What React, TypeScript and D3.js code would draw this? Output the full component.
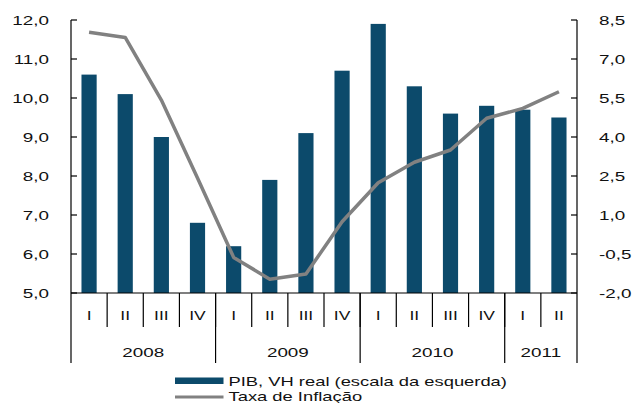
import React from "react";
import * as d3 from "d3";

const quarters = ["I", "II", "III", "IV", "I", "II", "III", "IV", "I", "II", "III", "IV", "I", "II"];
const years = ["2008", "2009", "2010", "2011"];
const yearSpans = [4, 4, 4, 2];
const pib = [10.6, 10.1, 9.0, 6.8, 6.2, 7.9, 9.1, 10.7, 11.9, 10.3, 9.6, 9.8, 9.7, 9.5];
const inflacao = [8.03, 7.83, 5.42, 2.42, -0.63, -1.47, -1.27, 0.74, 2.24, 3.03, 3.5, 4.72, 5.1, 5.74];
const leftTicks = [5, 6, 7, 8, 9, 10, 11, 12];
const rightTicks = [-2, -0.5, 1, 2.5, 4, 5.5, 7, 8.5];
const seriesNames = ["PIB, VH real (escala da esquerda)", "Taxa de Inflação"];

const W = 633, H = 403;
const X0 = 71, X1 = 577, Y0 = 20, Y1 = 293;
const BAR = "#0c4a6b";
const LINE = "#818181";
const TXT = "#111";
const FONT = "'Liberation Sans', Arial, sans-serif";

const fmt = (v: number) => v.toFixed(1).replace(".", ",");

function T({ x, y, s, anchor = "middle", size = 13, sx = 1.45 }: any) {
  return (
    <text transform={`translate(${x},${y}) scale(${sx},1)`} textAnchor={anchor} fontSize={size} fill={TXT} fontFamily={FONT}>
      {s}
    </text>
  );
}

export default function App() {
  const idx = quarters.map((_, i) => String(i));
  const x = d3.scaleBand<string>().domain(idx).range([X0, X1]).padding(0);
  const yL = d3.scaleLinear().domain([5, 12]).range([Y1, Y0]);
  const yR = d3.scaleLinear().domain([-2, 8.5]).range([Y1, Y0]);
  const bw = x.bandwidth() * 0.42;
  const line = d3
    .line<number>()
    .x((_, i) => (x(String(i)) as number) + x.bandwidth() / 2)
    .y((d) => yR(d));

  const yearBounds: number[] = [0];
  yearSpans.forEach((s, i) => yearBounds.push(yearBounds[i] + s));
  const bx = (k: number) => X0 + k * x.bandwidth();

  return (
    <svg width={W} height={H} style={{ position: "absolute", left: 0, top: 0, background: "#fff" }}>
      {pib.map((v, i) => (
        <rect key={i} x={(x(String(i)) as number) + (x.bandwidth() - bw) / 2} y={yL(v)} width={bw} height={Y1 - yL(v)} fill={BAR} />
      ))}
      <path d={line(inflacao) || ""} fill="none" stroke={LINE} strokeWidth={3.5} strokeLinejoin="round" />

      {/* axes */}
      <g stroke="#000" strokeWidth={1.2}>
        <line x1={X0} x2={X0} y1={Y0} y2={363} />
        <line x1={X1} x2={X1} y1={Y0} y2={363} />
        <line x1={X0} x2={X1} y1={Y1} y2={Y1} />
        {leftTicks.map((t) => (
          <line key={"l" + t} x1={X0} x2={X0 + 6} y1={yL(t)} y2={yL(t)} />
        ))}
        {rightTicks.map((t) => (
          <line key={"r" + t} x1={X1 - 6} x2={X1} y1={yR(t)} y2={yR(t)} />
        ))}
        {quarters.map((_, i) => (i > 0 ? <line key={"q" + i} x1={bx(i)} x2={bx(i)} y1={Y1} y2={327} /> : null))}
        {yearBounds.slice(1, -1).map((k) => (
          <line key={"y" + k} x1={bx(k)} x2={bx(k)} y1={Y1} y2={363} />
        ))}
      </g>

      {leftTicks.map((t) => (
        <T key={"lt" + t} x={49} y={yL(t) + 5} s={fmt(t)} anchor="end" />
      ))}
      {rightTicks.map((t) => (
        <T key={"rt" + t} x={599} y={yR(t) + 5} s={fmt(t)} anchor="start" />
      ))}
      {quarters.map((q, i) => (
        <T key={"ql" + i} x={(x(String(i)) as number) + x.bandwidth() / 2} y={320} s={q} size={12.5} sx={1.4} />
      ))}
      {years.map((yr, i) => (
        <T key={"yl" + yr} x={(bx(yearBounds[i]) + bx(yearBounds[i + 1])) / 2} y={357} s={yr} />
      ))}

      {/* legend */}
      <rect x={175} y={377.5} width={48.5} height={6.5} fill={BAR} />
      <line x1={175} x2={223.5} y1={397} y2={397} stroke={LINE} strokeWidth={3} />
      <T x={228.5} y={385.5} s={seriesNames[0]} anchor="start" size={12} sx={1.53} />
      <T x={228.5} y={401} s={seriesNames[1]} anchor="start" size={12} sx={1.53} />
    </svg>
  );
}
